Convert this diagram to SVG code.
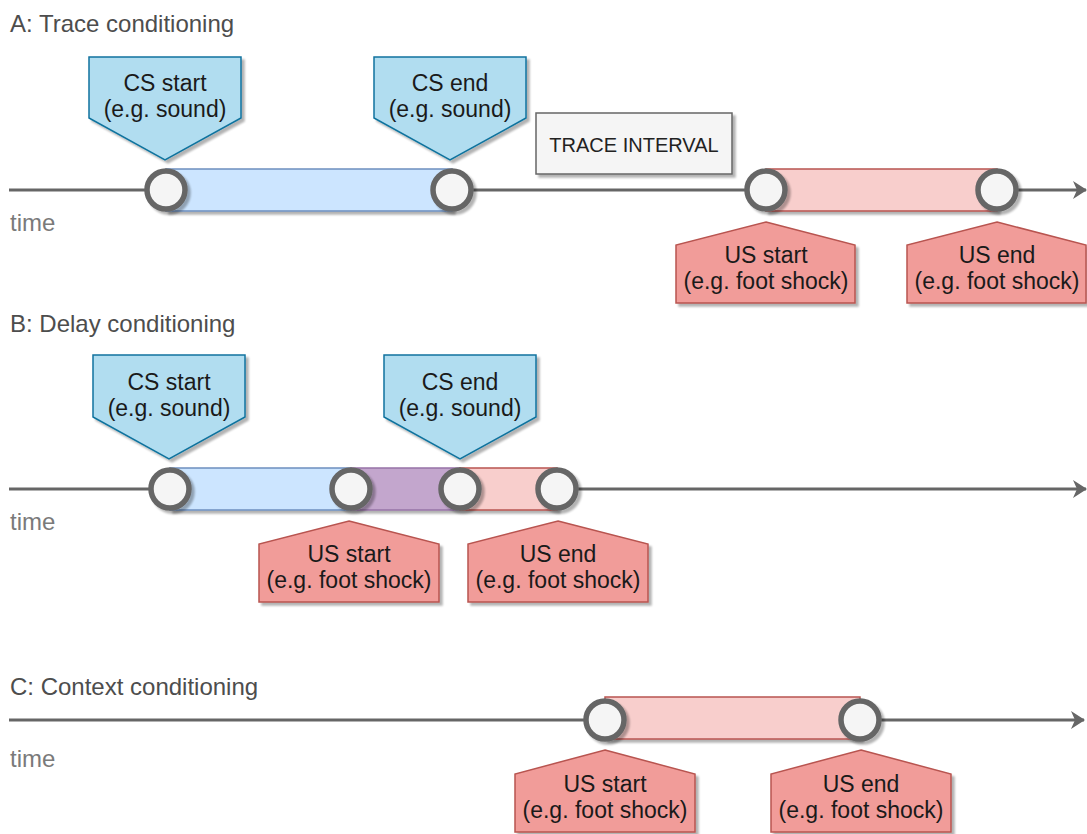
<svg xmlns="http://www.w3.org/2000/svg" width="1087" height="834" viewBox="0 0 1087 834">
  <defs>
    <filter id="shadow" x="-10%" y="-10%" width="130%" height="140%">
      <feGaussianBlur in="SourceAlpha" stdDeviation="1.2" result="b"/>
      <feOffset in="b" dx="3" dy="3" result="o"/>
      <feComponentTransfer in="o" result="s"><feFuncA type="linear" slope="0.3"/></feComponentTransfer>
      <feMerge><feMergeNode in="s"/><feMergeNode in="SourceGraphic"/></feMerge>
    </filter>
    <marker id="arrow" viewBox="0 0 14 18" refX="13" refY="9" markerWidth="14" markerHeight="18" markerUnits="userSpaceOnUse" orient="auto">
      <path d="M0,0 L14,9 L0,18 L4,9 Z" fill="#666"/>
    </marker>
    <style>
      .title { font-family: "Liberation Sans", Arial, sans-serif; font-size: 24px; fill: #4d4d4d; }
      .time { font-family: "Liberation Sans", Arial, sans-serif; font-size: 24px; fill: #7a7a7a; }
      .lbl { font-family: "Liberation Sans", Arial, sans-serif; font-size: 23px; fill: #1a1a1a; text-anchor: middle; }
      .box { font-family: "Liberation Sans", Arial, sans-serif; font-size: 20px; fill: #222; text-anchor: middle; }
      .axis { stroke: #666; stroke-width: 3; fill: none; }
      .pt { fill: #f5f5f5; stroke: #666; stroke-width: 5.5; }
      .cs { fill: #b1ddf0; stroke: #10739e; stroke-width: 1.5; }
      .us { fill: #f19c99; stroke: #b85450; stroke-width: 1.5; }
      .barb { fill: #cce5ff; stroke: #6c8ebf; stroke-width: 1.5; }
      .barr { fill: #f8cecc; stroke: #b85450; stroke-width: 1.5; }
      .barp { fill: #c3a6cd; stroke: #9673a6; stroke-width: 1.5; }
      .gray { fill: #f5f5f5; stroke: #666; stroke-width: 1.5; }
    </style>
  </defs>

  <!-- section titles and axis captions -->
  <text class="title" x="10" y="32">A: Trace conditioning</text>
  <text class="title" x="10" y="332">B: Delay conditioning</text>
  <text class="title" x="10" y="695">C: Context conditioning</text>
  <text class="time" x="10" y="231">time</text>
  <text class="time" x="10" y="530">time</text>
  <text class="time" x="10" y="767">time</text>

  <!-- time axes -->
  <g id="connectors">
    <line class="axis" x1="9" y1="190" x2="1086" y2="190" marker-end="url(#arrow)"/>
    <line class="axis" x1="9" y1="489" x2="1086" y2="489" marker-end="url(#arrow)"/>
    <line class="axis" x1="9" y1="720" x2="1084" y2="720" marker-end="url(#arrow)"/>
  </g>

  <!-- A: trace conditioning -->
  <g id="a-cs-bar" filter="url(#shadow)"><rect class="barb" x="166" y="169" width="286" height="42"/></g>
  <g id="a-us-bar" filter="url(#shadow)"><rect class="barr" x="766" y="169" width="231" height="42"/></g>
  <g id="a-points" filter="url(#shadow)">
    <circle class="pt" cx="166" cy="190" r="19"/>
    <circle class="pt" cx="452" cy="190" r="19"/>
    <circle class="pt" cx="766" cy="190" r="19"/>
    <circle class="pt" cx="997" cy="190" r="19"/>
  </g>
  <g id="a-cs-start">
    <polygon class="cs" filter="url(#shadow)" points="89,57 241,57 241,118 165,160 89,118"/>
    <text class="lbl" x="165" y="91">CS start</text>
    <text class="lbl" x="165" y="117">(e.g. sound)</text>
  </g>
  <g id="a-cs-end">
    <polygon class="cs" filter="url(#shadow)" points="374,57 526,57 526,118 450,160 374,118"/>
    <text class="lbl" x="450" y="91">CS end</text>
    <text class="lbl" x="450" y="117">(e.g. sound)</text>
  </g>
  <g id="a-trace-interval">
    <rect class="gray" filter="url(#shadow)" x="536" y="113" width="196" height="61"/>
    <text class="box" x="634" y="152">TRACE INTERVAL</text>
  </g>
  <g id="a-us-start">
    <polygon class="us" filter="url(#shadow)" points="766,222 855,245 855,303 676,303 676,245"/>
    <text class="lbl" x="766" y="263">US start</text>
    <text class="lbl" x="766" y="289">(e.g. foot shock)</text>
  </g>
  <g id="a-us-end">
    <polygon class="us" filter="url(#shadow)" points="997,222 1086,245 1086,303 907,303 907,245"/>
    <text class="lbl" x="997" y="263">US end</text>
    <text class="lbl" x="997" y="289">(e.g. foot shock)</text>
  </g>

  <!-- B: delay conditioning -->
  <g id="b-bars" filter="url(#shadow)">
    <rect class="barb" x="170" y="468" width="181" height="42"/>
    <rect class="barp" x="351" y="468" width="109" height="42"/>
    <rect class="barr" x="460" y="468" width="97" height="42"/>
  </g>
  <g id="b-points" filter="url(#shadow)">
    <circle class="pt" cx="170" cy="489" r="19"/>
    <circle class="pt" cx="351" cy="489" r="19"/>
    <circle class="pt" cx="460" cy="489" r="19"/>
    <circle class="pt" cx="557" cy="489" r="19"/>
  </g>
  <g id="b-cs-start">
    <polygon class="cs" filter="url(#shadow)" points="93,355 245,355 245,417 169,459 93,417"/>
    <text class="lbl" x="169" y="390">CS start</text>
    <text class="lbl" x="169" y="416">(e.g. sound)</text>
  </g>
  <g id="b-cs-end">
    <polygon class="cs" filter="url(#shadow)" points="384,355 536,355 536,417 460,459 384,417"/>
    <text class="lbl" x="460" y="390">CS end</text>
    <text class="lbl" x="460" y="416">(e.g. sound)</text>
  </g>
  <g id="b-us-start">
    <polygon class="us" filter="url(#shadow)" points="349,521 439,544 439,602 259,602 259,544"/>
    <text class="lbl" x="349" y="562">US start</text>
    <text class="lbl" x="349" y="588">(e.g. foot shock)</text>
  </g>
  <g id="b-us-end">
    <polygon class="us" filter="url(#shadow)" points="558,521 648,544 648,602 468,602 468,544"/>
    <text class="lbl" x="558" y="562">US end</text>
    <text class="lbl" x="558" y="588">(e.g. foot shock)</text>
  </g>

  <!-- C: context conditioning -->
  <g id="c-us-bar" filter="url(#shadow)"><rect class="barr" x="605" y="697" width="255" height="42"/></g>
  <g id="c-points" filter="url(#shadow)">
    <circle class="pt" cx="605" cy="720" r="19"/>
    <circle class="pt" cx="860" cy="720" r="19"/>
  </g>
  <g id="c-us-start">
    <polygon class="us" filter="url(#shadow)" points="605,750 695,774 695,832 515,832 515,774"/>
    <text class="lbl" x="605" y="792">US start</text>
    <text class="lbl" x="605" y="818">(e.g. foot shock)</text>
  </g>
  <g id="c-us-end">
    <polygon class="us" filter="url(#shadow)" points="861,750 951,774 951,832 771,832 771,774"/>
    <text class="lbl" x="861" y="792">US end</text>
    <text class="lbl" x="861" y="818">(e.g. foot shock)</text>
  </g>
</svg>
